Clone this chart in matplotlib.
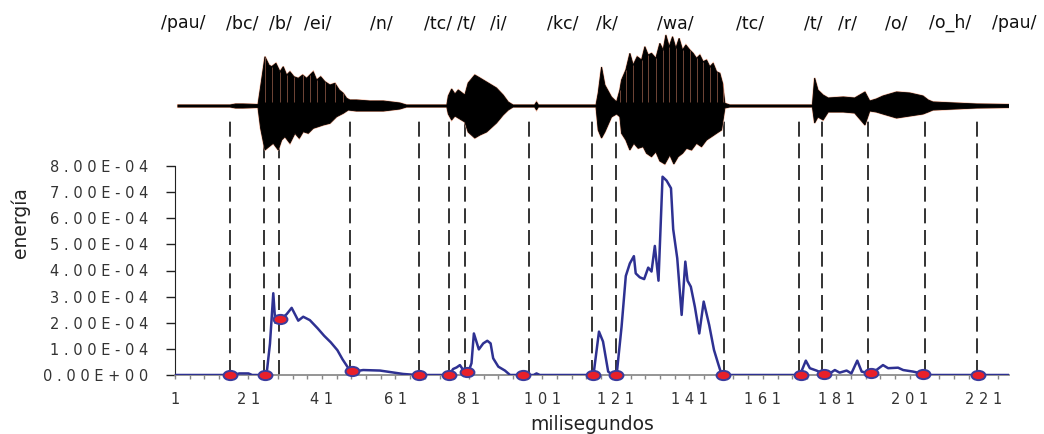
import numpy as np
import matplotlib.pyplot as plt
from matplotlib.path import Path
from matplotlib.markers import MarkerStyle
from matplotlib.transforms import Affine2D

# etiquetas de los fonemas y su posicion (ms)
fonemas = ['/pau/', '/bc/', '/b/', '/ei/', '/n/', '/tc/', '/t/', '/i/', '/kc/',
           '/k/', '/wa/', '/tc/', '/t/', '/r/', '/o/', '/o_h/', '/pau/']
fonemas_x = [3.2, 19.2, 29.8, 39.9, 57.3, 72.6, 80.2, 88.9, 106.6,
             118.6, 137.3, 157.5, 174.6, 184.1, 197.2, 212.0, 229.4]

# fronteras de segmentacion (lineas discontinuas)
limites = [16.05, 25.3, 29.4, 48.6, 67.5, 75.5, 79.9, 97.3, 114.6, 121.1,
           150.3, 170.9, 177.1, 189.5, 205.1, 219.4]

# forma de onda: envolvente superior (ms, amplitud)
sup_x = [1.8, 16.0, 17.5, 19.5, 23.6, 24.3,
         25.49, 26.58, 27.3, 28.48, 29.57, 30.47, 31.39, 32.29, 33.38, 34.56,
         35.75, 36.84, 37.73, 38.63, 39.56, 40.65, 41.82, 43.18, 44.54, 45.71,
         46.8, 47.72, 48.6, 50.4, 54.0, 57.7, 62.2, 64.0, 75.0, 75.4, 76.3,
         77.2, 78.1, 79.9, 80.8, 82.6, 84.0, 85.8, 88.5, 90.3, 91.7, 93.0,
         98.9, 99.4, 99.9, 115.6, 116.2, 117.1, 118.0, 119.8, 121.2,
         122.09, 122.55, 123.72, 124.81, 125.71, 126.8, 128.0, 128.89, 129.79,
         130.71, 131.88, 132.97, 133.87, 134.61, 135.51, 136.43, 137.33, 138.22,
         139.15, 140.05, 141.14, 142.03, 142.96, 143.86, 144.76, 145.68, 146.58,
         147.48, 148.4, 149.3, 150.03, 150.66, 152.0,
         174.5, 175.1, 176.0, 177.4, 178.8, 182.9, 186.0, 188.8, 190.1, 191.9,
         193.7, 197.4, 201.0, 204.6, 206.0, 207.3, 213.2, 219.2, 228.2]
sup_y = [1, 1, 2, 2, 1.5, 19,
         49.3, 41, 39.3, 42.7, 34.3, 39.3, 31, 34.3, 29.3, 27.7,
         31, 27.7, 31, 34.3, 26, 29.3, 24.3, 21, 22.7, 16,
         12.7, 7.7, 6, 6, 5, 5, 3, 1, 1, 10, 17,
         12, 16, 11, 23, 31, 28, 24, 18, 11, 4, 1,
         1, 4, 1, 1, 13, 39, 21, 9, 4,
         16, 26, 36, 52.7, 41, 49.3, 46, 59.3, 51,
         52.7, 47.7, 62.7, 56, 71, 59.3, 69.3, 57.7, 67.7,
         56, 61, 56, 52.7, 47.7, 51, 44.3, 46, 39.3,
         42.7, 34.3, 32.7, 22.7, 2.7, 1,
         1, 28, 16, 11, 8, 9, 8, 14, 5, 7,
         10, 14, 13, 10, 6, 4, 3, 2, 1.5]

# forma de onda: envolvente inferior (ms, amplitud)
inf_x = [1.8, 16.0, 17.5, 19.5, 23.6, 24.3,
         25.49, 26.58, 27.75, 29.11, 30.03, 30.93, 32.29, 33.65, 34.83, 35.91,
         37.27, 38.63, 39.99, 41.35, 43.18, 45.0, 46.8, 48.16, 50.4, 54.0,
         57.7, 62.2, 64.0, 75.0, 75.4, 76.3, 77.2, 78.1, 79.9, 80.8, 82.6,
         84.0, 85.8, 88.5, 90.3, 91.7, 93.0, 98.9, 99.4, 99.9, 115.6, 116.2,
         117.1, 118.0, 119.8, 121.2,
         122.09, 122.55, 123.72, 124.81, 125.9, 127.07, 128.43, 129.35, 130.71,
         131.88, 132.97, 134.33, 135.69, 136.78, 137.95, 139.15, 140.24, 141.6,
         142.96, 144.31, 145.68, 147.04, 148.4, 149.76, 150.66, 152.0,
         174.5, 175.1, 176.0, 177.4, 178.8, 182.9, 186.0, 188.8, 190.1, 191.9,
         193.7, 197.4, 201.0, 204.6, 206.0, 207.3, 213.2, 219.2, 228.2]
inf_y = [-1, -1, -2, -2, -1.5, -22,
         -44, -40.7, -37.3, -44, -34, -30.7, -37.3, -27.3, -32.3, -25.7,
         -27.3, -22.3, -20.7, -19, -17.3, -10.7, -7.3, -4, -5, -5,
         -5, -3, -1, -1, -8, -14, -10, -12, -16, -26, -32,
         -29, -26, -17, -9, -4, -1, -1, -4, -1, -1, -24,
         -32, -26, -11, -8,
         -10.7, -27.3, -34, -44, -37.3, -42.3, -40.7, -47.3, -50.7,
         -45.7, -55, -58, -49, -58, -50.7, -47.3, -42.3, -44,
         -37.3, -40.7, -34, -30.7, -27.3, -24, -2, -1,
         -1, -17, -11, -14, -6, -6, -7, -19, -5, -6,
         -8, -12, -10, -8, -6, -4, -3, -2, -1.5]

# curva de energia (ms, energia x 1e-4)
ms = [1, 16.05, 17.5, 18.5, 21, 22, 25.9, 26.85, 27.75, 28.3, 29.6, 31.4, 32.75,
      34.55, 35.9, 37.7, 39.8, 41.6, 43.4, 45.2, 46.6, 48.0, 49.1, 50.5, 52.2,
      56.8, 63.1, 66.8, 75.6, 76.7, 77.65, 78.55, 79.45, 80.8, 81.7, 82.35, 83.7,
      84.9, 86.0, 86.9, 87.6, 89.0, 90.8, 92.2, 98.6, 99.4, 100.3, 114.9, 116.4,
      117.5, 118.9, 120.1, 121.2, 122.55, 123.7, 124.8, 125.9, 126.4, 127.5,
      128.7, 129.8, 130.7, 131.6, 132.6, 133.7, 134.8, 136.0, 136.6, 137.7,
      138.9, 139.9, 140.5, 141.4, 142.5, 143.7, 144.9, 146.4, 147.7, 148.8,
      149.8, 171.1, 172.7, 173.8, 175.6, 177.7, 179.2, 180.6, 181.9, 183.8,
      185.1, 186.7, 187.9, 189.2, 190.6, 191.9, 193.7, 195.1, 197.8, 199.2,
      201.9, 204.2, 206.4, 228]
energia = [0, 0, 0.02, 0.06, 0.06, 0, 0, 1.2, 3.13, 2.0, 2.1, 2.33, 2.57,
           2.08, 2.23, 2.1, 1.79, 1.5, 1.25, 0.95, 0.6, 0.3, 0.17, 0.15, 0.19,
           0.17, 0.04, 0, 0, 0.23, 0.29, 0.38, 0.19, 0.1, 0.45, 1.59, 0.98,
           1.21, 1.31, 1.21, 0.64, 0.32, 0.17, 0, 0, 0.06, 0, 0, 1.66,
           1.28, 0.13, 0, 0, 1.85, 3.79, 4.27, 4.55, 3.89, 3.74,
           3.67, 4.11, 3.96, 4.94, 3.61, 7.59, 7.44, 7.15, 5.58, 4.47,
           2.30, 4.34, 3.61, 3.38, 2.61, 1.59, 2.81, 1.91, 0.96, 0.45,
           0, 0, 0.55, 0.26, 0.17, 0.04, 0.06, 0.19, 0.09, 0.17,
           0.06, 0.55, 0.13, 0.09, 0.09, 0.19, 0.38, 0.26, 0.28, 0.19,
           0.13, 0.06, 0, 0]

# marcas en las fronteras
marcas_x = [16.05, 25.6, 29.5, 49.1, 67.4, 75.6, 80.4, 95.8, 114.7, 120.9,
            150.2, 171.5, 177.7, 190.5, 204.6, 219.6]
marcas_y = [0, 0, 2.13, 0.15, 0, 0, 0.1, 0, 0, 0, 0, 0, 0.04, 0.09, 0.05, 0]

W, H = 1044, 434
fig = plt.figure(figsize=(W / 100, H / 100), dpi=100)

ax = fig.add_axes([175 / W, (H - 375) / H, 834 / W, 209 / H])
wave = fig.add_axes([175 / W, (H - 186) / H, 834 / W, 160 / H])

# forma de onda
px = sup_x + inf_x[::-1]
py = sup_y + inf_y[::-1]
wave.fill(px, py, facecolor='black', edgecolor='#f0ae94', lw=1.4, zorder=1)
wave.fill(px, py, facecolor='black', edgecolor='black', lw=0.6, zorder=2)
wave.vlines(sup_x[6:28:2], 4, sup_y[6:28:2], color='#d9876a', lw=0.6, alpha=0.6, zorder=3)
wave.vlines(sup_x[57:88:2], 4, sup_y[57:88:2], color='#d9876a', lw=0.6, alpha=0.6, zorder=3)
wave.set_xlim(1, 228)
wave.set_ylim(-80, 80)
wave.axis('off')
for f, x in zip(fonemas, fonemas_x):
    wave.text(x, 83, f, ha='center', va='center', fontsize=12.5, color='#111111')

# energia
e = np.array(energia) * 1e-4
ax.vlines(limites, 0, 9.84e-4, colors='#111111', lw=1.2,
          linestyles=(0, (9, 4)), clip_on=False, zorder=1)
ax.plot(ms, e, color='#2e3192', lw=1.8, zorder=3)

elipse = Path.unit_circle().transformed(Affine2D().scale(1.5, 1.0))
ax.plot(marcas_x, np.array(marcas_y) * 1e-4, ls='none',
        marker=MarkerStyle(elipse), ms=10, mfc='#e8202a', mec='#3a3c9c',
        mew=1.4, zorder=4, clip_on=False)

ax.set_xlim(1, 228)
ax.set_ylim(0, 8e-4)

yt = np.arange(0, 9) * 1e-4
ax.set_yticks(yt)
ax.set_yticklabels([' '.join('%.2E' % v) for v in yt])
xt = list(range(1, 229, 4))
ax.set_xticks(xt)
ax.set_xticklabels([' '.join(str(v)) if (v - 1) % 20 == 0 else '' for v in xt])

ax.tick_params(axis='y', length=6.5, width=1, color='#222222', pad=13,
               labelsize=10.5, labelcolor='#333333')
ax.tick_params(axis='x', length=3, width=1, color='#888888', pad=9,
               labelsize=10.5, labelcolor='#333333')

for s in ['top', 'right']:
    ax.spines[s].set_visible(False)
ax.spines['left'].set_color('#222222')
ax.spines['bottom'].set_color('#8c8c8c')
ax.spines['bottom'].set_linewidth(1.3)

fig.text(20 / W, 1 - 223 / H, 'energía', rotation=90, ha='center',
         va='center', fontsize=13.5, color='#222222')
fig.text(592 / W, 1 - 424 / H, 'milisegundos', ha='center', va='center',
         fontsize=13.5, color='#222222')

fig.savefig('out.png', dpi=100)
